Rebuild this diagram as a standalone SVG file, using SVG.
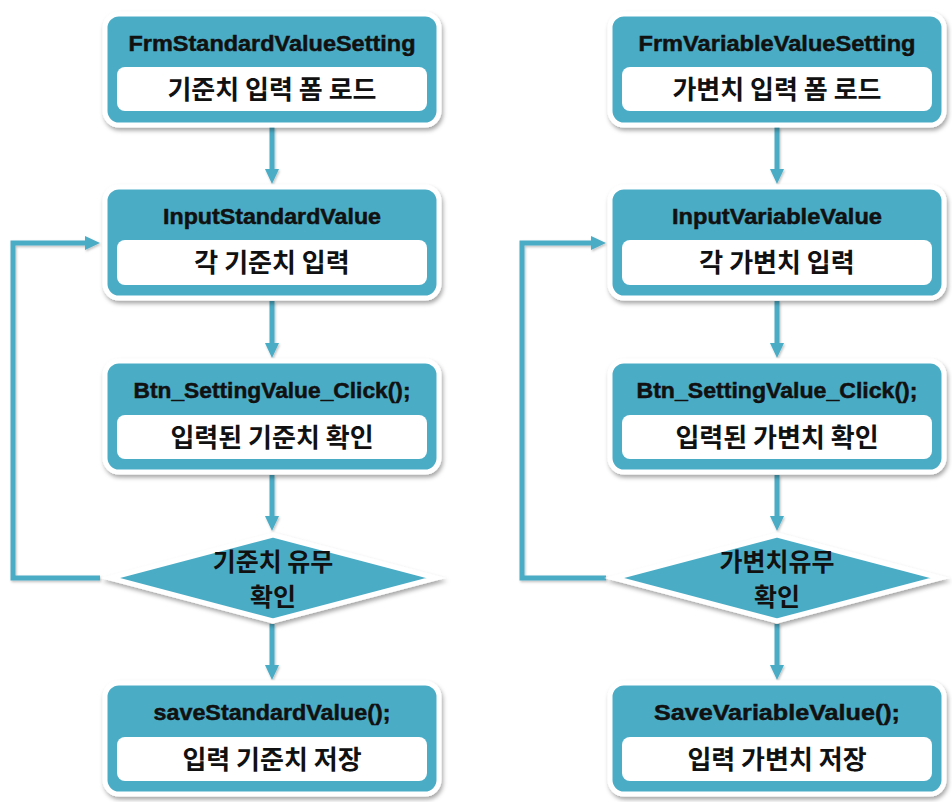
<svg xmlns="http://www.w3.org/2000/svg" width="952" height="802" viewBox="0 0 952 802">
<style>
.box{fill:#4BACC6;stroke:#ffffff;stroke-width:5;filter:url(#sh)}
.inner{fill:#ffffff}
.title{font-family:"Liberation Sans","Noto Sans",sans-serif;font-weight:bold;font-size:22.5px;fill:#111111;stroke:#111111;stroke-width:0.5;text-anchor:middle}
.ko{font-family:"Noto Sans CJK KR","Noto Sans",sans-serif;font-weight:bold;font-size:26px;fill:#111111;text-anchor:middle}
.kod{font-family:"Noto Sans CJK KR","Noto Sans",sans-serif;font-weight:bold;font-size:25px;fill:#111111;text-anchor:middle}
.conn{fill:none;stroke:#4BACC6;stroke-width:5}
</style>
<defs>
<filter id="sh" x="-10%" y="-10%" width="120%" height="130%">
<feDropShadow dx="1.5" dy="3" stdDeviation="2" flood-color="#000" flood-opacity="0.35"/>
</filter>
<filter id="lsh" filterUnits="userSpaceOnUse" x="0" y="0" width="952" height="802">
<feDropShadow dx="1" dy="1.5" stdDeviation="1" flood-color="#000" flood-opacity="0.25"/>
</filter>
<marker id="ah" viewBox="0 0 15 14" refX="3" refY="7" markerWidth="15" markerHeight="14" markerUnits="userSpaceOnUse" orient="auto">
<path d="M0,0 L15,7 L0,14 Z" fill="#4BACC6"/>
</marker>
</defs>

<g id="connectors" filter="url(#lsh)">
<path class="conn" d="M272,127 V172" marker-end="url(#ah)"/>
<path class="conn" d="M272,301 V346" marker-end="url(#ah)"/>
<path class="conn" d="M272,475 V519" marker-end="url(#ah)"/>
<path class="conn" d="M272,624 V668" marker-end="url(#ah)"/>
<path class="conn" d="M100,578 H13 V243 H88" marker-end="url(#ah)"/>
<path class="conn" d="M777,127 V172" marker-end="url(#ah)"/>
<path class="conn" d="M777,301 V346" marker-end="url(#ah)"/>
<path class="conn" d="M777,475 V519" marker-end="url(#ah)"/>
<path class="conn" d="M777,624 V668" marker-end="url(#ah)"/>
<path class="conn" d="M606,578 H522 V243 H594" marker-end="url(#ah)"/>
</g>

<g id="frm-standard">
<rect class="box" x="105" y="14" width="334" height="111" rx="14"/>
<rect class="inner" x="117" y="67" width="310" height="44" rx="8"/>
<text class="title" x="272" y="51" textLength="287" lengthAdjust="spacingAndGlyphs">FrmStandardValueSetting</text>
<text class="ko" x="272" y="99">기준치 입력 폼 로드</text>
</g>
<g id="input-standard">
<rect class="box" x="105" y="187" width="334" height="111" rx="14"/>
<rect class="inner" x="117" y="240" width="310" height="45" rx="8"/>
<text class="title" x="272" y="224" textLength="218" lengthAdjust="spacingAndGlyphs">InputStandardValue</text>
<text class="ko" x="272" y="272">각 기준치 입력</text>
</g>
<g id="btn-standard">
<rect class="box" x="105" y="361" width="334" height="111" rx="14"/>
<rect class="inner" x="117" y="415" width="310" height="44" rx="8"/>
<text class="title" x="272" y="398" textLength="277" lengthAdjust="spacingAndGlyphs">Btn_SettingValue_Click();</text>
<text class="ko" x="272" y="447">입력된 기준치 확인</text>
</g>
<g id="check-standard">
<polygon class="box" points="273,535 436,578 273,621 110,578"/>
<text class="kod" x="273" y="571">기준치 유무</text>
<text class="kod" x="273" y="606">확인</text>
</g>
<g id="save-standard">
<rect class="box" x="105" y="683" width="334" height="111" rx="14"/>
<rect class="inner" x="117" y="737" width="310" height="44" rx="8"/>
<text class="title" x="272" y="720" textLength="237" lengthAdjust="spacingAndGlyphs">saveStandardValue();</text>
<text class="ko" x="272" y="769">입력 기준치 저장</text>
</g>

<g id="frm-variable">
<rect class="box" x="610" y="14" width="334" height="111" rx="14"/>
<rect class="inner" x="622" y="67" width="310" height="44" rx="8"/>
<text class="title" x="777" y="51" textLength="277" lengthAdjust="spacingAndGlyphs">FrmVariableValueSetting</text>
<text class="ko" x="777" y="99">가변치 입력 폼 로드</text>
</g>
<g id="input-variable">
<rect class="box" x="610" y="187" width="334" height="111" rx="14"/>
<rect class="inner" x="622" y="240" width="310" height="45" rx="8"/>
<text class="title" x="777" y="224" textLength="210" lengthAdjust="spacingAndGlyphs">InputVariableValue</text>
<text class="ko" x="777" y="272">각 가변치 입력</text>
</g>
<g id="btn-variable">
<rect class="box" x="610" y="361" width="334" height="111" rx="14"/>
<rect class="inner" x="622" y="415" width="310" height="44" rx="8"/>
<text class="title" x="777" y="398" textLength="281" lengthAdjust="spacingAndGlyphs">Btn_SettingValue_Click();</text>
<text class="ko" x="777" y="447">입력된 가변치 확인</text>
</g>
<g id="check-variable">
<polygon class="box" points="777,535 940,578 777,621 614,578"/>
<text class="kod" x="777" y="571">가변치유무</text>
<text class="kod" x="777" y="606">확인</text>
</g>
<g id="save-variable">
<rect class="box" x="610" y="683" width="334" height="111" rx="14"/>
<rect class="inner" x="622" y="737" width="310" height="44" rx="8"/>
<text class="title" x="777" y="720" textLength="246" lengthAdjust="spacingAndGlyphs">SaveVariableValue();</text>
<text class="ko" x="777" y="769">입력 가변치 저장</text>
</g>
</svg>
